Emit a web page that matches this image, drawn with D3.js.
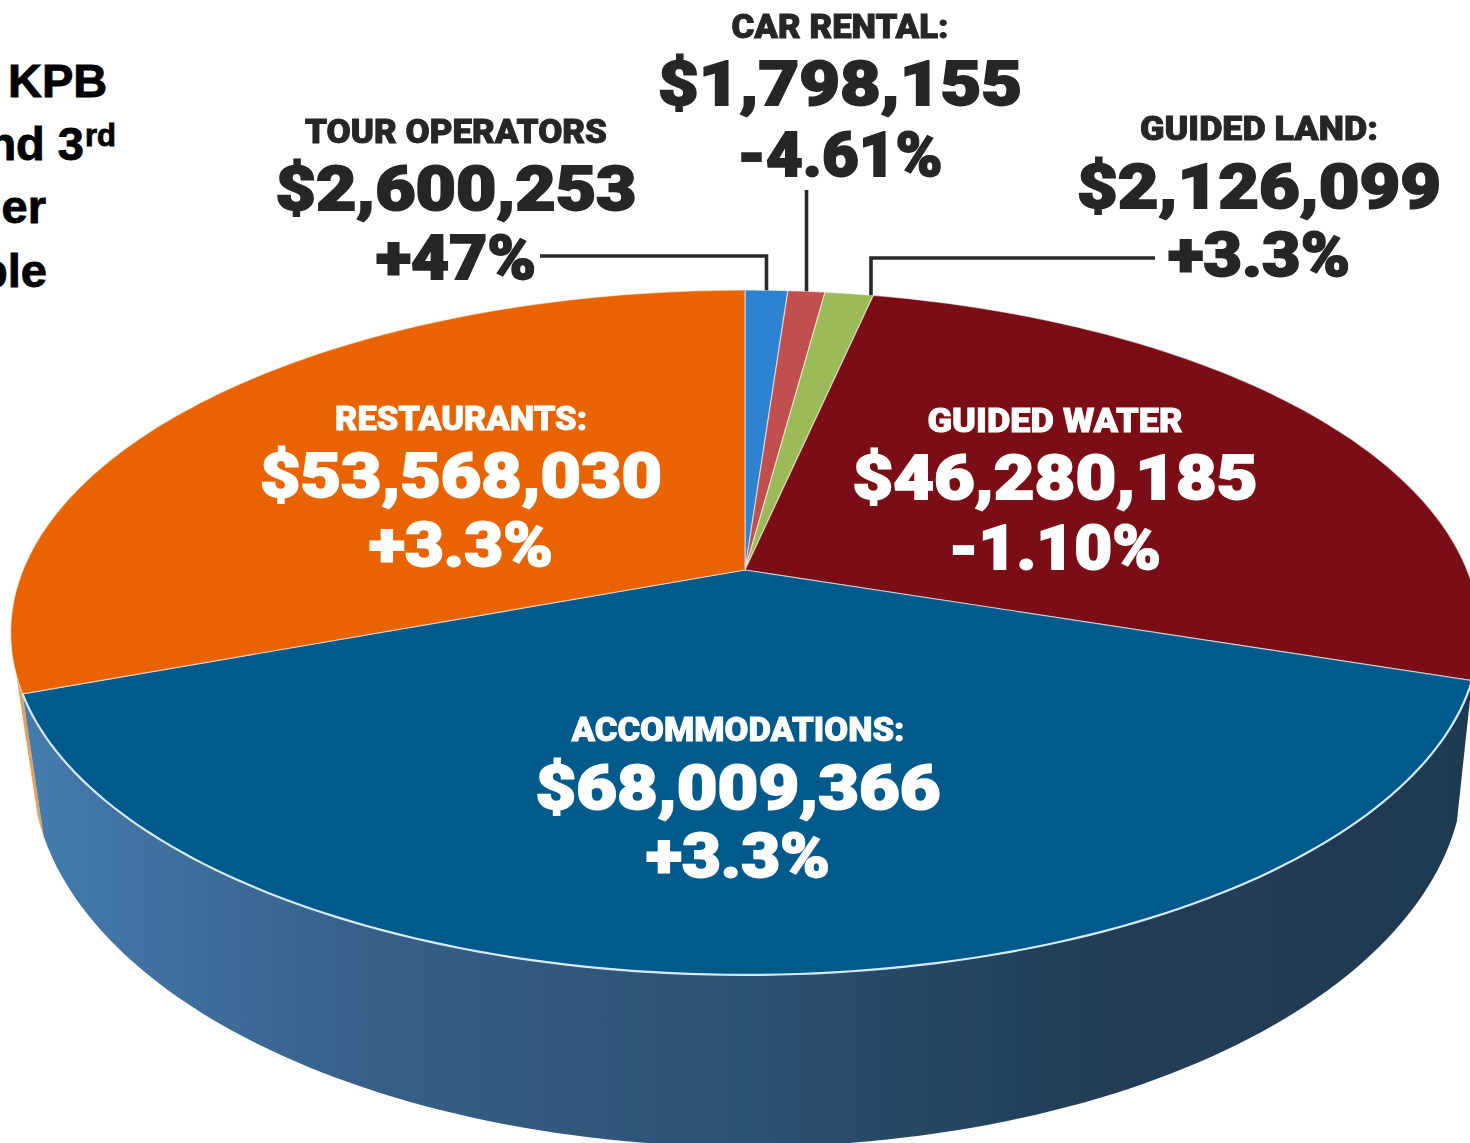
<!DOCTYPE html>
<html lang="en">
<head>
  <meta charset="UTF-8">
  <title>Visitor spending</title>
  <script src="https://d3js.org/d3.v7.min.js"></script>
  <style>
    html, body { margin: 0; padding: 0; background: #fff; overflow: hidden; }
    svg { display: block; }
    .note { font-family: "Liberation Sans", Arial, sans-serif; font-weight: 700; fill: #000; stroke: #000; stroke-width: 0.9; }
    .label { font-family: Roboto, sans-serif; font-weight: 900; text-anchor: middle; }
  </style>
</head>
<body>
  <svg width="1470" height="1143"></svg>
  <script>
  const categories = ["TOUR OPERATORS", "CAR RENTAL:", "GUIDED LAND:", "GUIDED WATER", "ACCOMMODATIONS:", "RESTAURANTS:"];
  const sales = [2600253, 1798155, 2126099, 46280185, 68009366, 53568030];
  const changes = ["+47%", "-4.61%", "+3.3%", "-1.10%", "+3.3%", "+3.3%"];
  // slice sizes in percent as drawn, the picture's small wedges are not quite to scale
  const shares = [1.12, 0.97, 1.27, 26.74, 39.2, 30.7];
  const colors = ["#2f82d2", "#c0504d", "#9bbb59", "#7a1113", "#005a8c", "#e96300"];

  const noteLines = [
    { text: "KPB", x: 8, y: 97, anchor: "start" },
    { text: "nd 3", x: 84, y: 160, anchor: "end" },
    { text: "er", x: 46, y: 223, anchor: "end" },
    { text: "ble", x: 47, y: 287, anchor: "end" }
  ];

  // [center x, title baseline, value baseline, change baseline, title width, value width, change width]
  const labelLayout = [
    [456, 143, 210, 279, 302, 361, 160],
    [840, 38, 105, 176, 217, 364, 205],
    [1259, 140, 208, 276, 238, 364, 182],
    [1055, 432, 499, 569, 255, 405, 212],
    [738, 741, 809, 877, 333, 405, 184],
    [461, 430, 497, 566, 252, 402, 184]
  ];

  const svg = d3.select("svg");
  const fmt = d3.format("$,");

  const defs = svg.append("defs");
  const grad = defs.append("linearGradient")
    .attr("id", "wall")
    .attr("gradientUnits", "userSpaceOnUse")
    .attr("x1", 20).attr("x2", 1470).attr("y1", 0).attr("y2", 0);
  [[0, "#457cae"], [0.25, "#365f87"], [0.5, "#2c5273"], [0.75, "#213d55"], [1, "#1f3a52"]]
    .forEach(s => grad.append("stop").attr("offset", s[0]).attr("stop-color", s[1]));
  defs.append("filter").attr("id", "soft").append("feGaussianBlur").attr("stdDeviation", 0.7);

  // circle in the plane of the pie -> picture, with a bit of perspective
  function projector(cx, cy, a, b, k) {
    return angle => {
      const u = Math.sin(angle), v = -Math.cos(angle), w = 1 - k * v;
      return [cx + a * u / w, cy + b * v / w];
    };
  }
  const topRim = projector(745, 570, 722, 331, 0.1825);
  const lowRim = projector(748, 699, 704, 366, 0.1825);

  const pie = d3.pie().sort(null).startAngle(0).endAngle(2 * Math.PI);
  const slices = pie(shares);
  const line = d3.line();

  const sweep = (rim, a0, a1, n = 120) =>
    d3.range(n + 1).map(i => rim(a0 + (a1 - a0) * i / n));

  const chart = svg.append("g").attr("filter", "url(#soft)");

  // side wall, only accommodations and a sliver of restaurants show
  const acc = slices[4], rest = slices[5];
  const sliverEnd = rest.startAngle + 0.055;
  chart.append("path")
    .attr("d", line([...sweep(topRim, rest.startAngle, sliverEnd, 10), ...sweep(lowRim, sliverEnd, rest.startAngle, 10)]) + "Z")
    .attr("fill", "#e2a25e");
  chart.append("path")
    .attr("d", line([...sweep(topRim, acc.startAngle, acc.endAngle), ...sweep(lowRim, acc.endAngle, acc.startAngle)]) + "Z")
    .attr("fill", "url(#wall)");

  chart.selectAll("path.slice")
    .data(slices)
    .enter()
    .append("path")
    .attr("class", "slice")
    .attr("d", d => line([[745, 570], ...sweep(topRim, d.startAngle, d.endAngle)]) + "Z")
    .attr("fill", (d, i) => colors[i])
    .attr("stroke", "#fff")
    .attr("stroke-opacity", 0.55)
    .attr("stroke-width", 1.2)
    .attr("stroke-linejoin", "round");

  chart.append("path")
    .attr("d", line(sweep(topRim, acc.startAngle, acc.endAngle)))
    .attr("fill", "none")
    .attr("stroke", "#d5e9f4")
    .attr("stroke-width", 2.2);

  // leader lines for the three small slices
  const leaderX = [
    topRim((slices[0].startAngle + slices[0].endAngle) / 2),
    topRim((slices[1].startAngle + slices[1].endAngle) / 2),
    topRim(slices[2].endAngle - 0.004)
  ];
  const leaders = [
    [[540, 256], [leaderX[0][0], 256], leaderX[0]],
    [[leaderX[1][0], 190], leaderX[1]],
    [[1155, 258], [leaderX[2][0], 258], leaderX[2]]
  ];
  chart.selectAll("path.leader")
    .data(leaders)
    .enter()
    .append("path")
    .attr("class", "leader")
    .attr("d", d => line(d))
    .attr("fill", "none")
    .attr("stroke", "#2a2a2a")
    .attr("stroke-width", 3.6);

  const labels = chart.selectAll("g.block")
    .data(categories)
    .enter()
    .append("g")
    .attr("class", "block");

  function addLabel(getText, baseIdx, widthIdx, size, strokeW) {
    labels.append("text")
      .attr("class", "label")
      .attr("x", (d, i) => labelLayout[i][0])
      .attr("y", (d, i) => labelLayout[i][baseIdx])
      .attr("font-size", size)
      .attr("textLength", (d, i) => labelLayout[i][widthIdx])
      .attr("lengthAdjust", "spacingAndGlyphs")
      .attr("fill", (d, i) => i < 3 ? "#262626" : "#fff")
      .attr("stroke", (d, i) => i < 3 ? "#262626" : "#fff")
      .attr("stroke-width", strokeW)
      .text(getText);
  }
  addLabel(d => d, 1, 4, 33, 0.9);
  addLabel((d, i) => fmt(sales[i]), 2, 5, 61, 1.8);
  addLabel((d, i) => changes[i], 3, 6, 61, 1.8);

  // cut off text from the slide on the left
  svg.selectAll("text.note")
    .data(noteLines)
    .enter()
    .append("text")
    .attr("class", "note")
    .attr("x", d => d.x)
    .attr("y", d => d.y)
    .attr("text-anchor", d => d.anchor)
    .attr("font-size", 47)
    .text(d => d.text);
  svg.append("text")
    .attr("class", "note")
    .attr("x", 85)
    .attr("y", 146)
    .attr("font-size", 31)
    .text("rd");
  </script>
</body>
</html>
